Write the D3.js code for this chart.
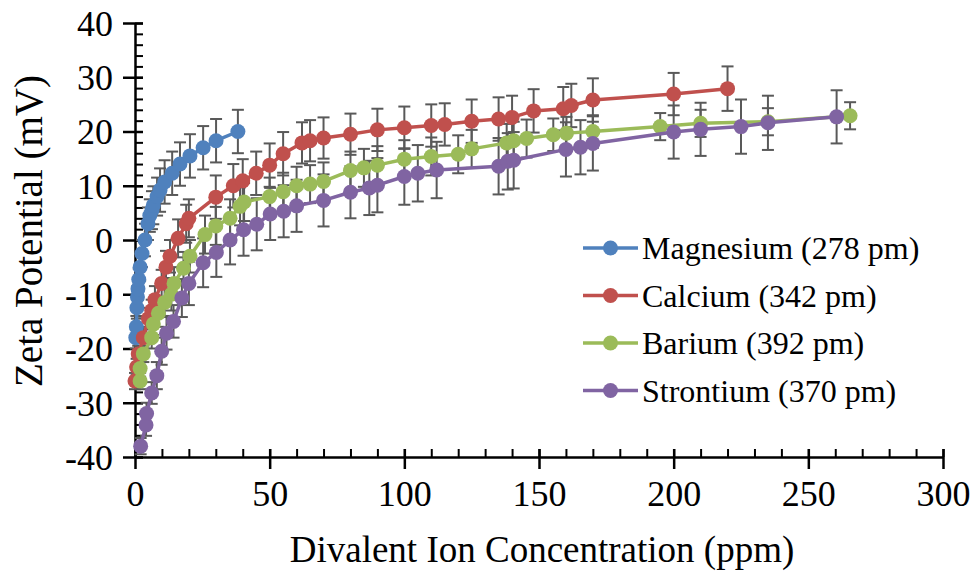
<!DOCTYPE html>
<html>
<head>
<meta charset="utf-8">
<script src="https://cdn.jsdelivr.net/npm/d3@7"></script>
<style>
  html, body { margin: 0; padding: 0; background: #fff; }
  svg { display: block; }
  text { font-family: "Liberation Serif", "Times New Roman", serif; fill: #000; }
</style>
</head>
<body>
<svg id="chart" width="974" height="574"></svg>
<script>
// ---------------- data ----------------
const seriesNames = ["Magnesium (278 pm)", "Calcium (342 pm)", "Barium (392 pm)", "Strontium (370 pm)"];
const seriesColors = ["#4F81BD", "#C0504D", "#9BBB59", "#8064A2"];

const mgX = [0.3, 0.5, 0.7, 0.9, 1.1, 1.4, 1.9, 2.6, 3.7, 4.8, 5.5, 6.3, 6.8, 8.2, 9.3, 11, 13.8, 16.7, 20.4, 25.3, 30.1, 38.2];
const mgY = [-18, -16, -12.5, -10.5, -9, -7.3, -5, -2.5, 0, 3, 4.5, 5.5, 6.4, 8, 9.2, 10.7, 12.3, 14, 15.5, 17, 18.3, 20];
const mgErr = [2, 2, 2, 2, 2, 2, 2.5, 2.5, 3, 3, 3, 3.5, 3.5, 3.5, 4, 4, 4, 4, 4, 4, 4, 4];

const caX = [0, 0.6, 1.2, 3.1, 5, 6.2, 7.4, 9.9, 11.5, 13, 16, 19, 20, 30, 36.5, 40, 45, 50, 55, 62, 65, 70, 80, 90, 100, 110, 115, 125, 135, 140, 148, 159, 162, 170, 200, 220];
const caY = [-26, -23.4, -21, -18, -14.5, -13, -11, -8, -5, -3, 0.3, 3, 4, 7.9, 10, 10.9, 12.3, 13.8, 15.9, 17.9, 18.3, 18.8, 19.5, 20.3, 20.7, 21.1, 21.3, 21.9, 22.3, 22.6, 23.8, 24.2, 24.8, 25.8, 26.9, 27.9];
const caErr = [1.5, 1.5, 1.5, 2, 2, 2, 2.5, 2.5, 3, 3, 3.5, 3.5, 3.5, 4, 4, 4, 4, 4, 4, 3.8, 3.8, 3.8, 3.8, 3.9, 3.9, 3.9, 3.9, 4, 4, 4, 4, 4, 4, 4, 3.9, 4.1];

const baX = [1.9, 1.9, 3.1, 6.2, 6.8, 8.7, 11, 13.5, 14.5, 18, 20.4, 26, 30, 35.3, 39, 40.5, 50, 55, 60, 65, 70, 80, 85, 90, 100, 110, 120, 125, 138, 140.6, 145.4, 155.3, 160.2, 170, 195, 210, 235, 265.5];
const baY = [-26, -23.7, -21, -18, -15.5, -13.5, -11.5, -10, -8, -5.2, -3, 1, 2.6, 4, 6.2, 7, 8, 8.9, 10, 10.3, 10.8, 12.8, 13.3, 13.8, 14.9, 15.4, 15.8, 16.8, 17.9, 18.3, 18.7, 19.4, 19.7, 20, 20.9, 21.5, 21.8, 22.9];
const baErr = [1.5, 1.5, 1.5, 2, 2, 2.5, 2.5, 3, 3, 3, 3, 3.5, 3.5, 3.5, 3.5, 3.5, 3.5, 3.5, 3.5, 3.5, 3.5, 3.5, 3.5, 3.5, 3.5, 3.5, 3.5, 3.5, 3.5, 3.5, 3.5, 3, 3, 3, 2.5, 2.5, 2.5, 2.5];

const srX = [2.1, 4.1, 4.3, 6.2, 8.1, 9.9, 11.7, 14.3, 17.4, 20, 25.3, 30.2, 35.3, 40.3, 45.2, 50.2, 55.2, 60, 70, 80, 87, 90, 100, 105, 112, 135, 138.4, 140.6, 160, 165.4, 170, 200, 210, 225, 235, 260.5];
const srY = [-38, -34.1, -32, -28.2, -25, -20.5, -17.2, -15, -10.7, -8, -4.2, -2.3, 0, 1.9, 2.9, 4.8, 5.3, 6.3, 7.3, 8.8, 9.6, 10.1, 11.7, 12.3, 12.9, 13.6, 14.5, 14.7, 16.7, 17.1, 17.8, 19.9, 20.4, 20.9, 21.6, 22.7];
const srErr = [1.5, 2, 2, 2, 2.5, 2.5, 3, 3, 3.5, 4, 4.5, 4.5, 4.5, 4.8, 4.8, 4.8, 4.8, 4.8, 4.8, 4.8, 5, 5, 5.2, 5.2, 5.2, 5.2, 5.2, 5.2, 5, 5, 5, 4.9, 4.9, 5, 5, 4.9];

const xTicks = [0, 50, 100, 150, 200, 250, 300];
const yTicks = [-40, -30, -20, -10, 0, 10, 20, 30, 40];

const xTitle = "Divalent Ion Concentration (ppm)";
const yTitle = "Zeta Potential (mV)";

// ---------------- build ----------------
const allX = [mgX, caX, baX, srX], allY = [mgY, caY, baY, srY], allE = [mgErr, caErr, baErr, srErr];
const series = seriesNames.map((name, i) => ({
  name, color: seriesColors[i],
  points: allX[i].map((xv, j) => ({ x: xv, y: allY[i][j], e: allE[i][j] }))
}));

const svg = d3.select("#chart");
const mLeft = 135, mRight = 943, mTop = 23, mBottom = 457;

const x = d3.scaleLinear().domain([0, 300]).range([mLeft, mRight]);
const y = d3.scaleLinear().domain([-40, 40]).range([mBottom, mTop]);

const gAxes = svg.append("g");
// y axis minor ticks (inside)
gAxes.append("g")
  .attr("transform", `translate(${mLeft},0)`)
  .call(d3.axisRight(y).tickValues(d3.range(-40, 41, 2)).tickSize(8).tickFormat(""))
  .call(g => g.select(".domain").remove())
  .call(g => g.selectAll("line").attr("stroke", "#000").attr("stroke-width", 2));
// y axis major (cross)
gAxes.append("g")
  .attr("transform", `translate(${mLeft},0)`)
  .call(d3.axisLeft(y).tickValues(yTicks).tickSizeInner(12).tickSizeOuter(0).tickPadding(10)
    .tickFormat(d => d))
  .call(g => g.select(".domain").attr("stroke", "#000").attr("stroke-width", 2.5))
  .call(g => g.selectAll(".tick line").attr("stroke", "#000").attr("stroke-width", 2.5).attr("x2", -12).attr("x1", 8))
  .call(g => g.selectAll("text").style("font-size", "36px").attr("font-family", null).attr("dy", "0.34em"));

// x axis minor ticks (inside)
gAxes.append("g")
  .attr("transform", `translate(0,${mBottom})`)
  .call(d3.axisTop(x).tickValues(d3.range(0, 301, 10)).tickSize(8).tickFormat(""))
  .call(g => g.select(".domain").remove())
  .call(g => g.selectAll("line").attr("stroke", "#000").attr("stroke-width", 2));
// x axis major
gAxes.append("g")
  .attr("transform", `translate(0,${mBottom})`)
  .call(d3.axisBottom(x).tickValues(xTicks).tickSizeInner(12).tickSizeOuter(0).tickPadding(11).tickFormat(d => d))
  .call(g => g.select(".domain").attr("stroke", "#000").attr("stroke-width", 2.5))
  .call(g => g.selectAll(".tick line").attr("stroke", "#000").attr("stroke-width", 2.5).attr("y1", -8).attr("y2", 12))
  .call(g => g.selectAll("text").style("font-size", "36px").attr("font-family", null));

// error bars
const capW = 6;
const gErr = svg.append("g").attr("stroke", "#595959").attr("stroke-width", 2).attr("fill", "none");
series.forEach(s => {
  s.points.forEach(p => {
    const cx = x(p.x), y1 = y(p.y + p.e), y2 = y(p.y - p.e);
    gErr.append("line").attr("x1", cx).attr("x2", cx).attr("y1", y1).attr("y2", y2);
    gErr.append("line").attr("x1", cx - capW).attr("x2", cx + capW).attr("y1", y1).attr("y2", y1);
    gErr.append("line").attr("x1", cx - capW).attr("x2", cx + capW).attr("y1", y2).attr("y2", y2);
  });
});

// lines + markers
const line = d3.line().x(d => x(d.x)).y(d => y(d.y));
series.forEach(s => {
  const g = svg.append("g");
  g.append("path").datum(s.points).attr("d", line)
    .attr("fill", "none").attr("stroke", s.color).attr("stroke-width", 3.5).attr("stroke-linejoin", "round");
  g.selectAll("circle").data(s.points).join("circle")
    .attr("cx", d => x(d.x)).attr("cy", d => y(d.y)).attr("r", 7.5).attr("fill", s.color);
});

// legend
const legend = svg.append("g");
const legY0 = 248, legDy = 47.5;
series.forEach((s, i) => {
  const ly = legY0 + i * legDy;
  legend.append("line").attr("x1", 583).attr("x2", 638).attr("y1", ly).attr("y2", ly)
    .attr("stroke", s.color).attr("stroke-width", 3.5);
  legend.append("circle").attr("cx", 610.5).attr("cy", ly).attr("r", 7.5).attr("fill", s.color);
  legend.append("text").attr("x", 642).attr("y", ly).attr("dy", "0.35em")
    .style("font-size", "32px").text(s.name);
});

// axis titles
svg.append("text").attr("x", 542).attr("y", 562).attr("text-anchor", "middle")
  .style("font-size", "37px").text(xTitle);
svg.append("text").attr("transform", `translate(42,${231}) rotate(-90)`)
  .attr("text-anchor", "middle").style("font-size", "39px").text(yTitle);
</script>
</body>
</html>
